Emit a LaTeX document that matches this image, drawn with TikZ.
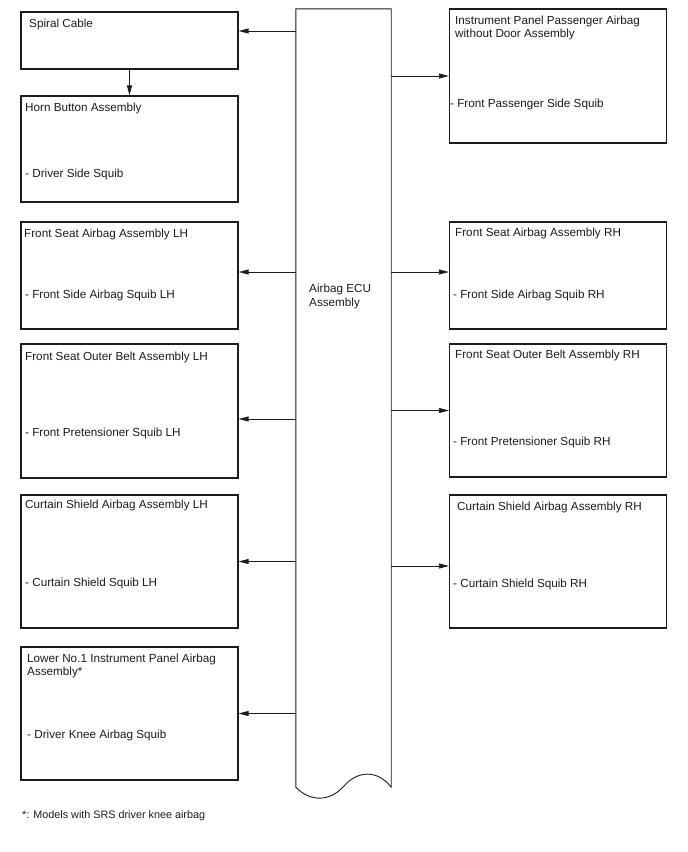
\documentclass[tikz,border=0pt]{standalone}
\usepackage{fontspec}
\setmainfont{Liberation Sans}
\usetikzlibrary{arrows.meta,positioning,calc}
\definecolor{ink}{HTML}{1C1C1C}
\tikzset{
  every node/.style={font=\fontsize{11.7}{13.5}\selectfont,text=ink},
  arr/.style={-{Triangle[length=10pt,width=5pt]},line width=.8pt,draw=ink},
  part/.style={draw=ink,line width=1.2pt,minimum width=217pt,inner sep=0,fill=white},
  title/.style={anchor=north west,align=left,inner sep=0},
  squib/.style={anchor=base west,inner sep=0}
}

\begin{document}
\begin{tikzpicture}[x=1pt,y=-1pt]
  \fill[white] (0,0) rectangle (688,852);
  \path[use as bounding box] (0,0) rectangle (688,852);

  % airbag ECU, open bottom edge
  \node[minimum width=95pt,minimum height=778pt,inner sep=0] (ecu) at (343.5,398) {};
  \draw[ink,line width=.9pt] (ecu.south west) -- (ecu.north west) -- (ecu.north east) -- (ecu.south east)
    .. controls (378,770) and (358,770) .. (344,786) .. controls (330,802) and (310,802) .. (ecu.south west);
  \node[title] (ecutxt) at (309,284.2) {Airbag ECU\\Assembly};

  % driver side
  \node[part,minimum height=57pt] (sc) at (129.5,40.5) {};
  \node[part,minimum height=106pt] (hb) at (129.5,149) {};
  \node[part,minimum height=107pt] (fsl) at (129.5,275.5) {};
  \node[part,minimum height=134pt] (obl) at (129.5,411) {};
  \node[part,minimum height=133pt] (csl) at (129.5,561.5) {};
  \node[part,minimum height=133pt] (knee) at (129.5,713.5) {};

  \node[squib] (sctxt) at (29,27) {Spiral Cable};
  \node[squib] (hbtxt) at (25,111) {Horn Button Assembly};
  \node[squib] (hbsq) at (25,177.3) {- Driver Side Squib};
  \node[squib] (fsltxt) at (24,237.5) {Front Seat Airbag Assembly LH};
  \node[squib] (fslsq) at (25,298.5) {- Front Side Airbag Squib LH};
  \node[squib] (obltxt) at (25,360) {Front Seat Outer Belt Assembly LH};
  \node[squib] (oblsq) at (25,436.5) {- Front Pretensioner Squib LH};
  \node[squib] (csltxt) at (25,508.5) {Curtain Shield Airbag Assembly LH};
  \node[squib] (cslsq) at (25,586.5) {- Curtain Shield Squib LH};
  \node[title] (kneetxt) at (27,653.5) {Lower No.1 Instrument Panel Airbag\\Assembly*};
  \node[squib] (kneesq) at (27,738.5) {- Driver Knee Airbag Squib};

  % passenger side
  \node[part,minimum height=134pt] (ipp) at (558,76) {};
  \node[part,minimum height=107pt] (fsr) at (558,275.5) {};
  \node[part,minimum height=133pt] (obr) at (558,410.5) {};
  \node[part,minimum height=133pt] (csr) at (558,561.5) {};

  \node[title] (ipptxt) at (455,15.5) {Instrument Panel Passenger Airbag\\without Door Assembly};
  \node[squib] (ippsq) at (450,107.5) {- Front Passenger Side Squib};
  \node[squib] (fsrtxt) at (455,236.5) {Front Seat Airbag Assembly RH};
  \node[squib] (fsrsq) at (453,298.5) {- Front Side Airbag Squib RH};
  \node[squib] (obrtxt) at (455,358.5) {Front Seat Outer Belt Assembly RH};
  \node[squib] (obrsq) at (453,445) {- Front Pretensioner Squib RH};
  \node[squib] (csrtxt) at (457,510.5) {Curtain Shield Airbag Assembly RH};
  \node[squib] (csrsq) at (453,587) {- Curtain Shield Squib RH};

  \node[squib,font=\fontsize{10.8}{13}\selectfont] (note) at (22,818) {*: Models with SRS driver knee airbag};

  % connections
  \draw[arr] (sc) -- (hb);
  \foreach \n/\dy in {sc/9.5,fsl/3.5,obl/-8,csl/0,knee/0} {
    \draw[arr] ([yshift=\dy pt]\n.east -| ecu.west) -- ([yshift=\dy pt]\n.east);
  }
  \foreach \n/\dy in {ipp/0,fsr/3.5,obr/0,csr/-4.5} {
    \draw[arr] ([yshift=\dy pt]\n.west -| ecu.east) -- ([yshift=\dy pt]\n.west);
  }
\end{tikzpicture}
\end{document}
